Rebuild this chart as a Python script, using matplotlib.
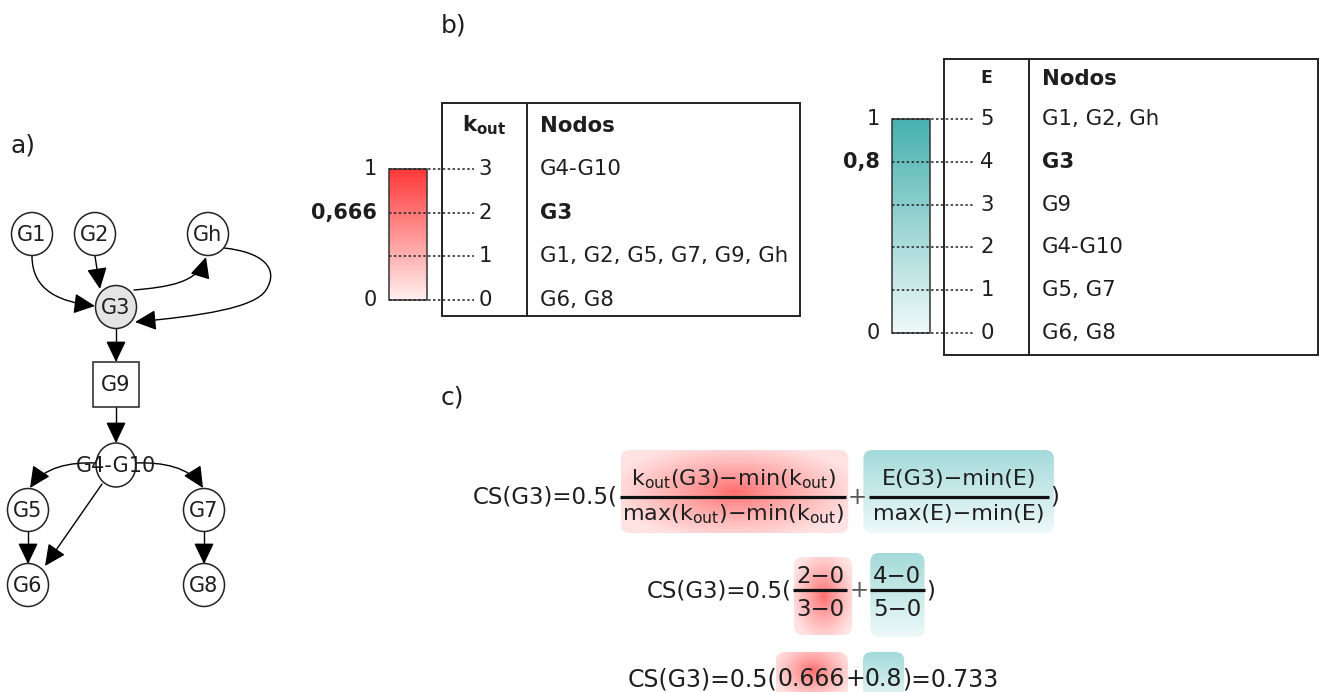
import numpy as np
import matplotlib
matplotlib.use("Agg")
import matplotlib.pyplot as plt
from matplotlib.patches import Ellipse, Rectangle, FancyArrowPatch, FancyBboxPatch, ArrowStyle
from matplotlib.path import Path

plt.rcParams['font.family'] = ['DejaVu Sans']
plt.rcParams['mathtext.fontset'] = 'dejavusans'

# ---------------- data ----------------
node_names = ["G1", "G2", "Gh", "G3", "G9", "G4-G10", "G5", "G7", "G6", "G8"]
edges = [("G1", "G3"), ("G2", "G3"), ("G3", "Gh"), ("Gh", "G3"), ("G3", "G9"),
         ("G9", "G4-G10"), ("G4-G10", "G5"), ("G4-G10", "G7"), ("G4-G10", "G6"),
         ("G5", "G6"), ("G7", "G8")]
focus_node = "G3"

kout_levels = [3, 2, 1, 0]
kout_nodes = ["G4-G10", "G3", "G1, G2, G5, G7, G9, Gh", "G6, G8"]
kout_norm_values = [1.0, 0.666, 0.0]
kout_norm_labels = ["1", "0,666", "0"]

E_levels = [5, 4, 3, 2, 1, 0]
E_nodes = ["G1, G2, Gh", "G3", "G9", "G4-G10", "G5, G7", "G6, G8"]
E_norm_values = [1.0, 0.8, 0.0]
E_norm_labels = ["1", "0,8", "0"]

kout_focus, kout_min, kout_max = 2, 0, 3
E_focus, E_min, E_max = 4, 0, 5
kout_term = "0.666"
E_term = "0.8"
cs_result = "0.733"

# ---------------- layout ----------------
W, H = 1319, 692
fig = plt.figure(figsize=(W / 100, H / 100), dpi=100)
ax = fig.add_axes([0, 0, 1, 1])
ax.set_xlim(0, W)
ax.set_ylim(H, 0)
ax.axis('off')
R = fig.canvas.get_renderer()
TXT = "#1e1e1e"
TFS = 15.3  # table text size

RED_TOP, RED_BOT = (255, 56, 56), (255, 240, 240)
TEAL_TOP, TEAL_BOT = (70, 177, 174), (240, 249, 249)


def tw(t):
    return t.get_window_extent(renderer=R).width


# panel letters
for lab, x, y in [("a)", 11, 145), ("b)", 441, 25), ("c)", 441, 398)]:
    ax.text(x, y, lab, fontsize=18, ha='left', va='center', color=TXT)

# ---------------- a) graph ----------------
pos = {"G1": (32, 234), "G2": (95, 234), "Gh": (208, 234), "G3": (116, 307),
       "G9": (116, 384), "G4-G10": (116, 465), "G5": (28, 510), "G7": (204, 510),
       "G6": (28, 585), "G8": (204, 585)}
routes = {
    ("G1", "G3"): [(32, 256), (32, 292), (62, 302), (95, 306)],
    ("G2", "G3"): [(95, 256), (100, 289)],
    ("G3", "Gh"): [(134, 290), (168, 287), (198, 283), (206, 257)],
    ("Gh", "G3"): [(224, 248), (262, 252), (280, 268), (266, 290),
                   (255, 308), (200, 316), (135, 322)],
    ("G3", "G9"): [(116, 328), (116, 362)],
    ("G9", "G4-G10"): [(116, 407), (116, 443)],
    ("G4-G10", "G5"): [(96, 463), (70, 462), (44, 467), (30, 488)],
    ("G4-G10", "G7"): [(136, 463), (162, 462), (190, 467), (203, 488)],
    ("G4-G10", "G6"): [(102, 484), (45, 566)],
    ("G5", "G6"): [(28, 532), (28, 564)],
    ("G7", "G8"): [(204, 532), (204, 564)],
}
head = ArrowStyle("-|>", head_length=0.42, head_width=0.2)
for e in edges:
    pts = routes[e]
    if len(pts) == 2:
        codes = [Path.MOVETO, Path.LINETO]
    else:
        codes = [Path.MOVETO] + [Path.CURVE4] * (len(pts) - 1)
    ax.add_patch(FancyArrowPatch(path=Path(pts, codes), arrowstyle=head,
                                 mutation_scale=31, color="black", lw=1.0, zorder=2))

for n in node_names:
    x, y = pos[n]
    if n == "G9":
        ax.add_patch(Rectangle((x - 23, y - 22), 46, 45, fc="white", ec="#222", lw=1.1, zorder=3))
    else:
        w, h = (40, 44) if n == "G4-G10" else (41, 43)
        ax.add_patch(Ellipse((x, y), w, h, fc="#e4e4e4" if n == focus_node else "white",
                             ec="#222", lw=1.1, zorder=3))
    ax.text(x, y + 1, n, fontsize=15, ha='center', va='center', color=TXT, zorder=4)


# ---------------- b) scales and tables ----------------
def vgrad(top, bot, n=256):
    t = np.linspace(0, 1, n)[:, None, None]
    return ((1 - t) * np.array(top) + t * np.array(bot)) / 255.0


def scale_table(bar, box, col_x, header, header_y, header_fs, num_x, dot_end,
                levels, nodes, norm_values, norm_labels, top, bot, focus_text):
    bx0, bx1, btop, bbot = bar
    vmax, vmin = max(levels), min(levels)

    def ly(v):
        return bbot - (v - vmin) / (vmax - vmin) * (bbot - btop)

    ax.imshow(vgrad(top, bot), extent=(bx0, bx1, bbot, btop), aspect='auto',
              interpolation='bilinear', zorder=1)
    ax.add_patch(Rectangle((bx0, btop), bx1 - bx0, bbot - btop, fc='none', ec="#333", lw=1.1, zorder=2))
    for v in levels:
        ax.plot([bx0, dot_end], [ly(v)] * 2, color="#222", lw=1.1, ls=(0, (1.6, 1.6)), zorder=3)
    for nv, nl in zip(norm_values, norm_labels):
        bold = nl not in ("0", "1")
        ax.text(bx0 - 12, bbot - nv * (bbot - btop), nl, fontsize=15, ha='right', va='center',
                color=TXT, fontweight='bold' if bold else 'normal')
    x0, y0, x1, y1 = box
    ax.add_patch(Rectangle((x0, y0), x1 - x0, y1 - y0, fc='none', ec="#222", lw=1.4, zorder=3))
    ax.plot([col_x, col_x], [y0, y1], color="#222", lw=1.4, zorder=3)
    ax.text((x0 + col_x) / 2, header_y, header, fontsize=header_fs, ha='center', va='center',
            color=TXT, fontweight='bold')
    ax.text(col_x + 13, header_y + 1, "Nodos", fontsize=TFS, ha='left', va='center',
            color=TXT, fontweight='bold')
    for v, txt in zip(levels, nodes):
        ax.text(num_x, ly(v), str(v), fontsize=TFS, ha='center', va='center', color=TXT)
        ax.text(col_x + 13, ly(v), txt, fontsize=TFS, ha='left', va='center', color=TXT,
                fontweight='bold' if txt == focus_text else 'normal')


scale_table((389, 427, 169, 300), (442, 103, 800, 316), 527,
            r"k$_{\mathbf{out}}$", 125, 15.5, 485, 474,
            kout_levels, kout_nodes, kout_norm_values, kout_norm_labels,
            RED_TOP, RED_BOT, focus_node)
scale_table((892, 930, 119, 333), (944, 59, 1318, 355), 1029,
            "E", 78, 12.5, 987, 975,
            E_levels, E_nodes, E_norm_values, E_norm_labels,
            TEAL_TOP, TEAL_BOT, focus_node)


# ---------------- c) formulas ----------------
FS = 16.5


def highlight(x0, x1, y0, y1, kind, center=None):
    nx, ny = 200, 120
    if kind == "red":
        cx, cy = center if center else (0.5, 0.5)
        xx, yy = np.meshgrid(np.linspace(0, 1, nx), np.linspace(0, 1, ny))
        r = np.clip(np.sqrt(((xx - cx) / 0.55) ** 2 + ((yy - cy) / 0.6) ** 2), 0, 1)
        c0, c1 = np.array([255, 105, 105]), np.array([255, 226, 226])
        arr = (c0 * (1 - r[..., None] ** 0.8) + c1 * r[..., None] ** 0.8) / 255.0
    else:
        arr = vgrad((163, 218, 217), (238, 249, 249), ny)
    box = FancyBboxPatch((x0, y0), x1 - x0, y1 - y0,
                         boxstyle="round,pad=0,rounding_size=9", fc='none', ec='none')
    ax.add_patch(box)
    im = ax.imshow(arr, extent=(x0, x1, y1, y0), aspect='auto', interpolation='bilinear', zorder=1)
    im.set_clip_path(box)


def put(x, base, s, color=TXT, fs=FS):
    t = ax.text(x, base, s, fontsize=fs, ha='left', va='baseline', color=color, zorder=5)
    return x + tw(t)


def fraction(x, line_y, num, den, num_gap, den_gap, pad, fs=FS):
    tn = ax.text(0, 0, num, fontsize=fs, ha='center', va='baseline', color=TXT, zorder=5)
    td = ax.text(0, 0, den, fontsize=fs, ha='center', va='baseline', color=TXT, zorder=5)
    w = max(tw(tn), tw(td)) + 2 * pad
    tn.set_position((x + w / 2, line_y - num_gap))
    td.set_position((x + w / 2, line_y + den_gap))
    ax.plot([x, x + w], [line_y, line_y], color="#111", lw=2.3, solid_capstyle='butt', zorder=5)
    return x + w


sub = r"$_{\mathregular{out}}$"
prefix = "CS(" + focus_node + ")=0.5("

# general form
ly1 = 497
x = put(473, ly1 + 7, prefix)
fa = x + 2
x = fraction(fa, ly1, "k" + sub + "(G3)−min(k" + sub + ")",
             "max(k" + sub + ")−min(k" + sub + ")", 12, 23, 2, fs=16)
fb = x
x = put(x + 1, ly1 + 7, "+", color="#555")
fc = x + 3
x = fraction(fc, ly1, "E(G3)−min(E)", "max(E)−min(E)", 12, 23, 4, fs=16)
fd = x
put(x + 1, ly1 + 7, ")")
highlight(fa + 1, fb + 2, ly1 - 47, ly1 + 36, "red")
highlight(fc - 6, fd + 5, ly1 - 47, ly1 + 36, "teal")

# values substituted
ly2 = 590
x = put(647, ly2 + 7, prefix)
fa = x + 1
x = fraction(fa, ly2, f"{kout_focus}−{kout_min}", f"{kout_max}−{kout_min}", 7, 26, 3)
fb = x
x = put(x + 2, ly2 + 7, "+", color="#555")
fc = x + 2
x = fraction(fc, ly2, f"{E_focus}−{E_min}", f"{E_max}−{E_min}", 7, 26, 3)
fd = x
put(x + 2, ly2 + 7, ")")
highlight(fa + 1, fb + 5, ly2 - 33, ly2 + 45, "red")
highlight(fc, fd, ly2 - 37, ly2 + 47, "teal")

# result
b3 = 686
F3 = 17
x = put(628, b3, prefix, fs=F3)
a0 = x
x = put(x, b3, kout_term, fs=F3)
a1 = x
x = put(x, b3, "+", fs=F3)
c0 = x
x = put(x, b3, E_term, fs=F3)
c1 = x
put(x, b3, ")=" + cs_result, fs=F3)
highlight(a0 - 2, a1 + 3, 652, 705, "red", center=(0.5, 0.35))
highlight(c0 - 2, c1 + 2, 652, 705, "teal")

ax.set_xlim(0, W)
ax.set_ylim(H, 0)
fig.savefig("out.png", dpi=100)
